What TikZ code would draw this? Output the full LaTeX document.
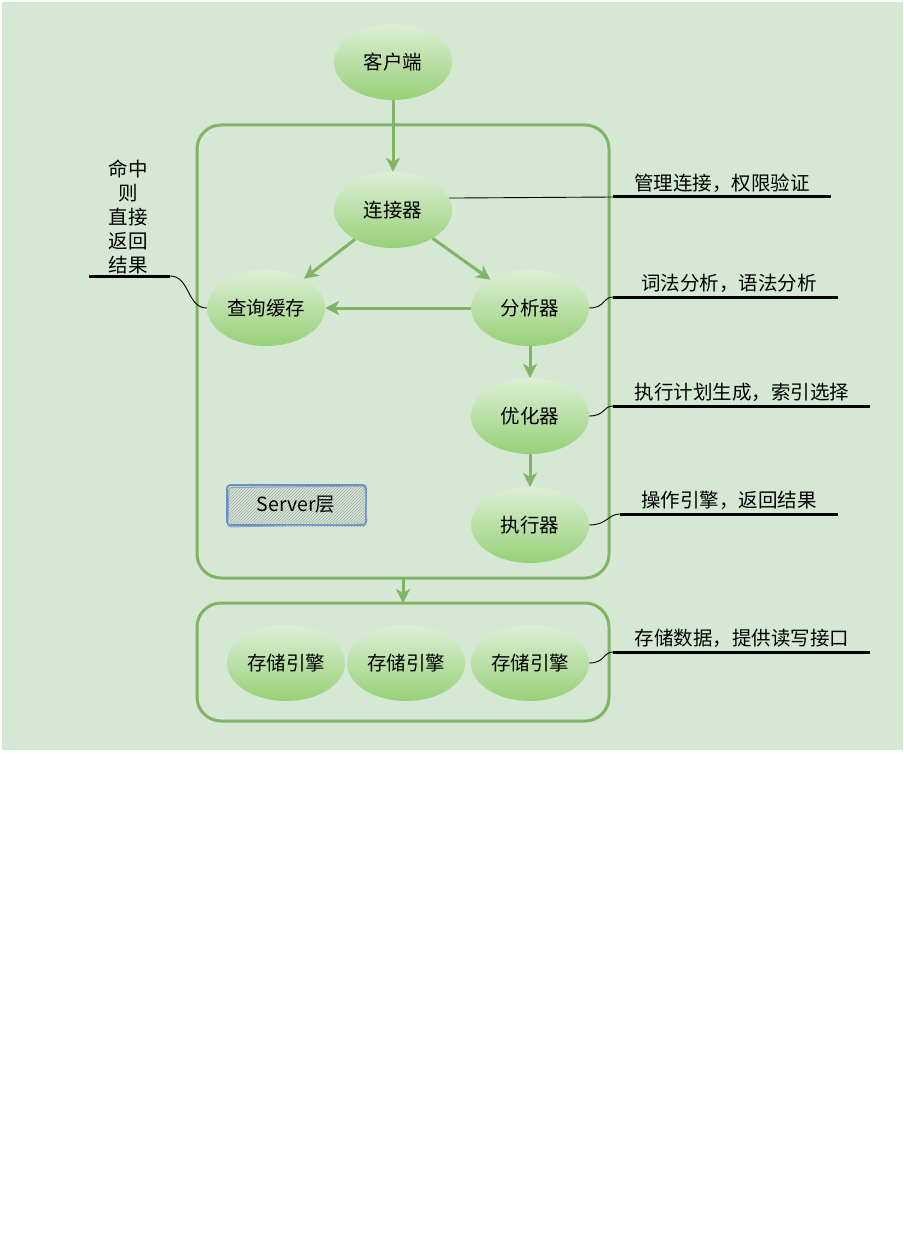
\documentclass[tikz,border=0pt]{standalone}
\usepackage{fontspec}
\setmainfont{Noto Sans CJK SC}
\usetikzlibrary{shapes.geometric,arrows.meta,patterns}
\definecolor{bgG}{HTML}{D5E8D4}
\definecolor{lineG}{HTML}{82B366}
\definecolor{topG}{HTML}{DDEFD6}
\definecolor{botG}{HTML}{97D077}
\definecolor{sketchB}{HTML}{6C8EBF}
\tikzset{
  ell/.style={ellipse, minimum width=118pt, minimum height=76pt, inner sep=0pt,
    top color=topG, bottom color=botG, draw=none, font=\fontsize{19.5}{23}\selectfont},
  flow/.style={draw=lineG, line width=3pt, -{Stealth[length=14pt,width=14pt,inset=4pt]}},
  box/.style={draw=lineG, line width=3pt, rounded corners=24pt},
  note/.style={font=\fontsize{19.5}{23}\selectfont, anchor=south, inner sep=0pt},
  uline/.style={draw=black, line width=3pt},
  lead/.style={draw=black, line width=0.9pt},
}
\begin{document}
\begin{tikzpicture}[x=1pt,y=-1pt]
\useasboundingbox (0,0) rectangle (904,1241);
\fill[white] (0,0) rectangle (904,1241);
\fill[bgG] (2,2) rectangle (903,750);

% containers
\draw[box] (197,125) rectangle (609,578);
\draw[box] (197,603) rectangle (609,721);
\coordinate (srvbot) at (403,578);
\coordinate (stotop) at (403,603);

% nodes
\node[ell] (kh) at (393,62) {客户端};
\node[ell] (lj) at (393,210) {连接器};
\node[ell] (cx) at (266,308) {查询缓存};
\node[ell] (fx) at (530,308) {分析器};
\node[ell] (yh) at (530,416) {优化器};
\node[ell] (zx) at (530,525) {执行器};
\node[ell] (s1) at (286,663) {存储引擎};
\node[ell] (s2) at (406,663) {存储引擎};
\node[ell] (s3) at (530,663) {存储引擎};

% flow arrows
\draw[flow] (kh) -- (lj);
\draw[flow] (lj) -- (cx);
\draw[flow] (lj) -- (fx);
\draw[flow] (fx) -- (cx);
\draw[flow] (fx) -- (yh);
\draw[flow] (yh) -- (zx);
\draw[flow] (srvbot) -- (stotop);

% Server layer sketch box
\fill[pattern=north east lines, pattern color=gray!70] (228,486) rectangle (366,526);
\draw[sketchB, line width=1.6pt, rounded corners=3pt] (227,485) rectangle (366,525);
\draw[sketchB!80, line width=1pt, rounded corners=3pt] (229,487.5) -- (365,486) -- (367,524) -- (228,527) -- cycle;
\node[font=\fontsize{19.5}{23}\selectfont, inner sep=0pt] (srv) at (296,505) {Server层};

% annotations
\coordinate (a1s) at (613,197); \coordinate (a1e) at (831,197);
\draw[uline] (a1s) -- (a1e);
\node[note] (t1) at (722,193) {管理连接，权限验证};
\draw[lead] (lj.12) -- (a1s);

\coordinate (a2s) at (613,297); \coordinate (a2e) at (838,297);
\draw[uline] (a2s) -- (a2e);
\node[note] (t2) at (729,293) {词法分析，语法分析};
\draw[lead] (fx.east) .. controls +(16,0) and +(-10,0) .. (a2s);

\coordinate (a3s) at (613,406); \coordinate (a3e) at (870,406);
\draw[uline] (a3s) -- (a3e);
\node[note] (t3) at (742,402) {执行计划生成，索引选择};
\draw[lead] (yh.east) .. controls +(16,0) and +(-10,0) .. (a3s);

\coordinate (a4s) at (620,514); \coordinate (a4e) at (838,514);
\draw[uline] (a4s) -- (a4e);
\node[note] (t4) at (729,510) {操作引擎，返回结果};
\draw[lead] (zx.east) .. controls +(18,0) and +(-12,0) .. (a4s);

\coordinate (a5s) at (613,652); \coordinate (a5e) at (870,652);
\draw[uline] (a5s) -- (a5e);
\node[note] (t5) at (742,648) {存储数据，提供读写接口};
\draw[lead] (s3.east) .. controls +(16,0) and +(-10,0) .. (a5s);

\coordinate (a6s) at (89,276); \coordinate (a6e) at (170,276);
\draw[uline] (a6s) -- (a6e);
\node[note, align=center, font=\fontsize{19.5}{24}\selectfont] (t6) at (128,274) {命中\\则\\直接\\返回\\结果};
\draw[lead] (a6e) .. controls +(20,0) and +(-20,0) .. (cx.west);
\end{tikzpicture}
\end{document}
